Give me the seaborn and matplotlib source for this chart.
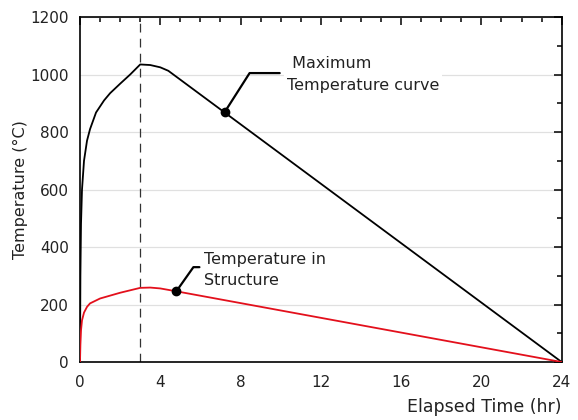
import numpy as np
import pandas as pd
import seaborn as sns
import matplotlib.pyplot as plt
from matplotlib.ticker import MultipleLocator

# data
hours_max = [0, 0.02, 0.05, 0.1, 0.2, 0.35, 0.5, 0.8, 1.2, 1.5, 2.0, 2.5, 3.0, 3.5, 4.0, 4.4, 24]
temp_max = [0, 300, 480, 600, 700, 770, 810, 868, 910, 935, 968, 1000, 1035, 1033, 1025, 1013, 0]

hours_str = [0, 0.02, 0.05, 0.1, 0.2, 0.35, 0.5, 1.0, 2.0, 3.0, 3.5, 4.0, 4.8, 24]
temp_str = [0, 60, 110, 145, 172, 192, 204, 221, 241, 258, 259, 256, 246, 0]

peak_hour = 3
x_ticks = [0, 4, 8, 12, 16, 20, 24]
y_ticks = [0, 200, 400, 600, 800, 1000, 1200]

sns.set_style('white')
plt.rcParams['font.family'] = ['DejaVu Sans']

fig = plt.figure(figsize=(5.78, 4.2), dpi=100)
ax = fig.add_axes([0.1384, 0.138, 0.8334, 0.8215])

df_max = pd.DataFrame({'hr': hours_max, 'T': temp_max})
df_str = pd.DataFrame({'hr': hours_str, 'T': temp_str})
sns.lineplot(data=df_max, x='hr', y='T', color='black', lw=1.3, ax=ax, zorder=3)
sns.lineplot(data=df_str, x='hr', y='T', color='#e3101c', lw=1.3, ax=ax, zorder=3)

ax.axvline(peak_hour, color='#333333', lw=0.9, ls=(0, (7, 5)), zorder=2)

ax.set_xlim(0, 24)
ax.set_ylim(0, 1200)
ax.set_xticks(x_ticks)
ax.set_yticks(y_ticks)
ax.xaxis.set_minor_locator(MultipleLocator(1))
ax.yaxis.set_minor_locator(MultipleLocator(100))
ax.tick_params(which='both', direction='in', top=True, right=True, color='black', width=1.1)
ax.tick_params(which='major', length=6, labelsize=11, pad=9, labelcolor='#222222')
ax.tick_params(which='minor', length=3.5)
ax.tick_params(axis='y', which='major', pad=8)
ax.yaxis.grid(True, color='#e0e0e0', lw=0.9)
ax.set_axisbelow(True)
for s in ax.spines.values():
    s.set_color('black')
    s.set_linewidth(1.2)

ax.set_ylabel('Temperature (°C)', fontsize=11.5, labelpad=2, color='#222222')
ax.set_xlabel('Elapsed Time (hr)', fontsize=12.5, loc='right', labelpad=6, color='#222222')

# annotations
p1 = 7.2
t1 = np.interp(p1, hours_max, temp_max)
ax.plot([p1, 8.45, 9.95], [t1, 1005, 1005], color='black', lw=1.6, zorder=4)
ax.plot(p1, t1, 'o', color='black', ms=6, zorder=5)
ax.text(10.3, 1000, ' Maximum\nTemperature curve', fontsize=11.5, va='center', ha='left',
        linespacing=1.65, color='#222222', bbox=dict(fc='white', ec='none', pad=2), zorder=4)

p2 = 4.8
t2 = np.interp(p2, hours_str, temp_str)
ax.plot([p2, 5.65, 5.95], [t2, 330, 330], color='black', lw=1.6, zorder=4)
ax.plot(p2, t2, 'o', color='black', ms=6, zorder=5)
ax.text(6.2, 320, 'Temperature in\nStructure', fontsize=11.5, va='center', ha='left',
        linespacing=1.5, color='#222222', bbox=dict(fc='white', ec='none', pad=2), zorder=4)

fig.savefig('out.png', dpi=100)
